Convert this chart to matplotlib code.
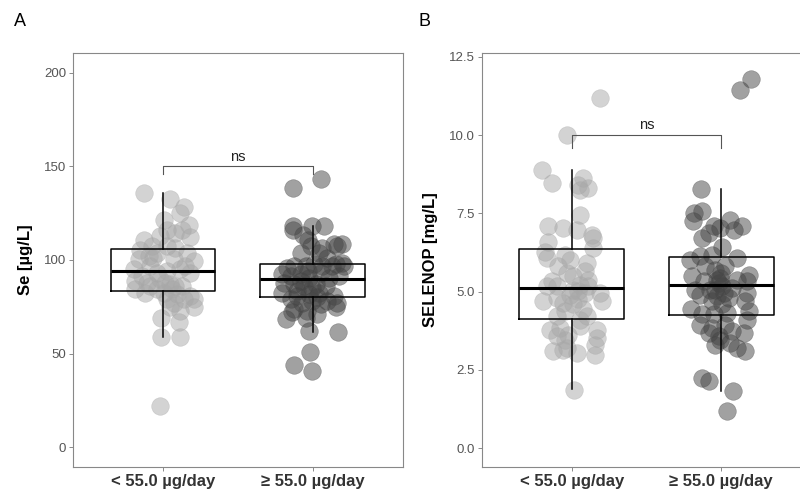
import matplotlib.pyplot as plt

plt.rcParams['font.family'] = ['Liberation Sans', 'DejaVu Sans']

groups = ['< 55.0 µg/day', '≥ 55.0 µg/day']

# Panel A: Se [µg/L] -- jittered x position, value
se_low_x = [0.871, 1.049, 1.138, 1.004, 1.116, 1.171, 1.178, 0.871, 1.027, 1.082,
            1.127, 0.927, 0.849, 0.960, 1.027, 1.082, 0.904, 0.838, 0.936, 1.071,
            1.204, 1.149, 0.804, 1.116, 1.182, 0.960, 1.027, 0.816, 0.893, 0.982,
            1.049, 1.082, 0.960, 0.816, 0.882, 1.004, 1.093, 1.182, 1.027, 1.138,
            1.071, 1.204, 1.204, 1.049, 1.116, 0.987, 1.104, 0.987, 1.111, 0.978,
            1.016, 1.060, 0.916, 1.127, 0.860, 0.914, 1.160, 0.980]
se_low_y = [135.7, 132.5, 128.3, 121.5, 125.1, 118.9, 112.3, 110.9, 116.2, 114.5,
            116.2, 107.4, 105.6, 103.8, 107.4, 106.5, 102.1, 100.3, 101.2, 100.3,
            99.4, 96.8, 95.0, 95.0, 93.2, 93.2, 94.1, 88.8, 87.9, 89.7,
            87.0, 86.2, 84.4, 84.4, 82.6, 82.6, 81.7, 80.8, 79.1, 79.1,
            77.3, 79.1, 74.7, 74.7, 72.9, 69.3, 66.7, 58.7, 58.7, 22.1,
            87.9, 84.4, 86.2, 86.2, 91.5, 96.8, 103.8, 112.7]

se_high_x = [2.056, 1.864, 1.867, 1.996, 2.073, 1.864, 1.931, 1.964, 2.140, 2.196,
             2.162, 2.062, 1.984, 1.918, 2.040, 2.096, 2.196, 2.129, 2.151, 1.829,
             1.873, 1.951, 2.007, 1.796, 1.851, 1.918, 1.973, 2.051, 2.107, 2.173,
             1.807, 1.873, 1.940, 2.018, 2.084, 1.796, 1.896, 1.973, 2.040, 2.140,
             1.851, 1.929, 1.996, 2.051, 2.162, 2.151, 1.873, 1.962, 2.029, 1.862,
             1.818, 1.951, 1.973, 2.167, 1.982, 1.873, 1.996, 1.918, 1.996, 2.029,
             1.896, 2.096, 1.964, 2.062, 2.207]
se_high_y = [143.1, 138.3, 118.3, 118.3, 118.0, 116.2, 113.6, 110.9, 108.3, 108.3,
             107.4, 106.5, 107.4, 103.8, 103.8, 101.2, 98.5, 96.8, 97.6, 95.9,
             96.8, 96.8, 97.6, 92.3, 91.5, 92.3, 90.6, 93.2, 90.6, 91.5,
             87.9, 87.0, 86.2, 87.0, 86.2, 82.6, 83.5, 81.7, 82.6, 80.8,
             79.1, 77.3, 78.2, 76.4, 77.3, 74.7, 73.8, 72.9, 71.1, 72.0,
             68.5, 69.3, 62.3, 61.4, 51.1, 44.0, 41.0, 89.0, 85.3, 80.0,
             80.8, 78.2, 94.1, 96.8, 96.8]

# Panel B: SELENOP [mg/L]
sp_low_x = [1.192, 0.967, 0.799, 0.866, 1.074, 1.045, 1.112, 1.056, 1.056, 0.844,
            0.944, 1.033, 1.134, 1.145, 0.844, 0.821, 1.145, 0.833, 0.955, 0.991,
            1.100, 0.911, 0.967, 1.089, 1.011, 1.112, 0.866, 0.833, 0.900, 1.056,
            1.112, 1.190, 0.810, 0.900, 0.989, 1.045, 1.201, 0.944, 1.011, 1.078,
            0.955, 1.100, 0.855, 0.922, 1.056, 1.167, 0.978, 0.900, 1.167, 0.955,
            1.156, 0.877, 0.944, 1.033, 1.156, 0.967, 1.018, 1.011, 1.045, 1.089,
            0.900, 1.056]
sp_low_y = [11.19, 10.00, 8.89, 8.46, 8.62, 8.41, 8.30, 8.23, 7.45, 7.08,
            7.03, 6.97, 6.82, 6.71, 6.60, 6.25, 6.39, 6.07, 6.18, 6.02,
            5.91, 5.81, 5.59, 5.65, 5.49, 5.38, 5.33, 5.17, 5.17, 5.22,
            5.17, 4.96, 4.69, 4.80, 4.90, 5.01, 4.69, 4.64, 4.59, 4.43,
            4.37, 4.21, 3.79, 3.84, 3.90, 3.79, 3.63, 3.58, 3.52, 3.47,
            3.31, 3.10, 3.15, 3.05, 2.99, 3.21, 1.86, 5.06, 4.75, 4.96,
            4.21, 4.11]

sp_high_x = [2.201, 2.127, 1.866, 1.815, 1.871, 1.808, 2.060, 2.138, 1.949, 1.993,
             2.083, 1.915, 1.871, 2.004, 1.859, 1.938, 2.105, 1.792, 1.893, 2.027,
             1.960, 1.804, 2.000, 2.183, 1.882, 1.971, 2.105, 2.172, 1.826, 1.926,
             2.004, 2.071, 2.172, 1.859, 1.971, 2.049, 1.938, 2.004, 2.161, 1.799,
             1.873, 1.949, 2.038, 2.183, 2.172, 1.859, 1.938, 2.027, 1.915, 2.071,
             1.984, 2.150, 1.993, 1.960, 2.060, 2.105, 2.161, 1.871, 1.915, 2.078,
             2.038, 1.982, 1.993, 1.960, 2.016]
sp_high_y = [11.80, 11.45, 8.28, 7.51, 7.56, 7.24, 7.29, 7.08, 7.08, 7.03,
             6.97, 6.87, 6.71, 6.44, 6.13, 6.18, 6.07, 6.02, 5.81, 5.81,
             5.70, 5.49, 5.59, 5.54, 5.33, 5.38, 5.38, 5.33, 5.06, 5.06,
             5.17, 5.12, 4.96, 4.90, 4.85, 4.80, 4.69, 4.59, 4.69, 4.43,
             4.27, 4.27, 4.32, 4.37, 4.11, 3.95, 3.84, 3.95, 3.68, 3.74,
             3.58, 3.68, 3.47, 3.31, 3.37, 3.21, 3.10, 2.25, 2.14, 1.83,
             1.19, 5.28, 5.44, 5.06, 4.96]

# box statistics: whisker low, Q1, median, Q3, whisker high
se_box = [[58.8, 83.2, 94.1, 106.0, 135.7], [61.4, 80.4, 90.1, 98.0, 118.0]]
sp_box = [[1.88, 4.13, 5.12, 6.36, 8.89], [1.82, 4.24, 5.20, 6.10, 8.28]]

light = '#a8a8a8'
dark = '#454545'

fig = plt.figure(figsize=(8, 4.9), dpi=100)
axA = fig.add_axes([73 / 800, 1 - 467 / 490, 330 / 800, 414 / 490])
axB = fig.add_axes([482 / 800, 1 - 467 / 490, 329 / 800, 414 / 490])


def panel(ax, lx, ly, hx, hy, box, ylim, yticks, yticklabels, ylabel, bracket_y, tick_drop, ns_off):
    ax.scatter(lx, ly, s=160, color=light, alpha=0.5, linewidths=0.4, zorder=2)
    ax.scatter(hx, hy, s=160, color=dark, alpha=0.5, linewidths=0.4, zorder=2)
    stats = []
    for b in box:
        stats.append({'whislo': b[0], 'q1': b[1], 'med': b[2], 'q3': b[3], 'whishi': b[4], 'fliers': []})
    ax.bxp(stats, positions=[1, 2], widths=0.7, showcaps=False, patch_artist=False,
           boxprops=dict(color='black', linewidth=1.1),
           whiskerprops=dict(color='black', linewidth=1.1),
           medianprops=dict(color='black', linewidth=2.2), zorder=3)
    ax.plot([1, 1, 2, 2], [bracket_y - tick_drop, bracket_y, bracket_y, bracket_y - tick_drop],
            color='#555555', linewidth=0.8, zorder=4)
    ax.text(1.5, bracket_y + ns_off, 'ns', ha='center', va='bottom', fontsize=10.5, color='#222222')
    ax.set_xlim(0.4, 2.6)
    ax.set_ylim(*ylim)
    ax.set_xticks([1, 2])
    ax.set_xticklabels(groups, fontsize=12, fontweight='bold', color='#333333')
    ax.set_yticks(yticks)
    ax.set_yticklabels(yticklabels, fontsize=9.5, color='#555555')
    ax.tick_params(axis='both', length=3, width=0.6, color='#777777', pad=2)
    ax.set_ylabel(ylabel, fontsize=12, fontweight='bold')
    for sp in ax.spines.values():
        sp.set_color('#888888')
        sp.set_linewidth(0.8)


panel(axA, se_low_x, se_low_y, se_high_x, se_high_y, se_box, (-10.5, 210.5),
      [0, 50, 100, 150, 200], ['0', '50', '100', '150', '200'], 'Se [µg/L]', 150, 4, 1.5)
panel(axB, sp_low_x, sp_low_y, sp_high_x, sp_high_y, sp_box, (-0.6, 12.62),
      [0, 2.5, 5, 7.5, 10, 12.5], ['0.0', '2.5', '5.0', '7.5', '10.0', '12.5'],
      'SELENOP [mg/L]', 10.0, 0.4, 0.1)

axA.yaxis.set_label_coords(-0.121, 0.5)
axB.yaxis.set_label_coords(-0.134, 0.5)

fig.text(20 / 800, 1 - 22 / 490, 'A', fontsize=13, ha='center', va='center')
fig.text(425 / 800, 1 - 22 / 490, 'B', fontsize=13, ha='center', va='center')

fig.savefig('out.png', dpi=100)
